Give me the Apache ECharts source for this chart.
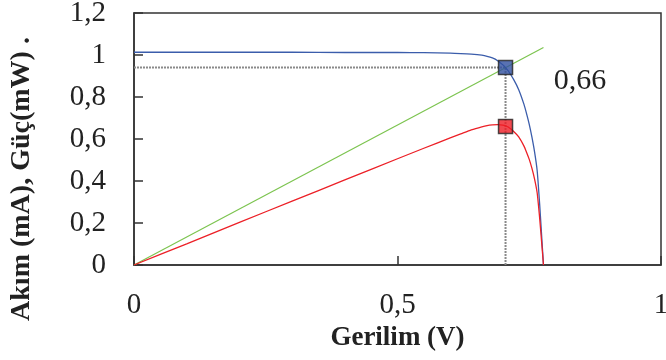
<!DOCTYPE html>
<html>
<head>
<meta charset="utf-8">
<script src="https://cdn.jsdelivr.net/npm/echarts@6/dist/echarts.min.js"></script>
<style>
  html, body { margin: 0; padding: 0; background: #fff; }
  #chart { width: 666px; height: 360px; }
</style>
</head>
<body>
<div id="chart"></div>
<script>
// Solar cell I-V and P-V characteristics
const voltage = [0, 0.1, 0.2, 0.3, 0.4, 0.5, 0.55, 0.6, 0.62, 0.64, 0.66, 0.67, 0.68, 0.69, 0.70, 0.705, 0.71, 0.72, 0.73, 0.74, 0.745, 0.75, 0.755, 0.76, 0.765, 0.77, 0.774, 0.777];
const current = [1.013, 1.013, 1.013, 1.013, 1.012, 1.012, 1.011, 1.009, 1.007, 1.004, 0.999, 0.994, 0.986, 0.973, 0.953, 0.94, 0.925, 0.885, 0.835, 0.765, 0.72, 0.67, 0.61, 0.54, 0.45, 0.28, 0.12, 0];
const power   = [0, 0.101, 0.203, 0.304, 0.405, 0.506, 0.556, 0.605, 0.624, 0.643, 0.658, 0.664, 0.667, 0.668, 0.666, 0.663, 0.657, 0.637, 0.610, 0.566, 0.536, 0.503, 0.461, 0.410, 0.344, 0.216, 0.093, 0];

// Load line through the maximum power point
const loadLineV = [0, 0.777];
const loadLineI = [0, 1.036];

// Maximum power point
const mppVoltage = 0.705;
const mppCurrent = 0.94;
const mppPower = 0.66;

const xTicks = [0, 0.5, 1];
const yTicks = [0, 0.2, 0.4, 0.6, 0.8, 1, 1.2];

const fmt = v => String(+v.toFixed(2)).replace('.', ',');
const pairs = (xs, ys) => xs.map((x, i) => [x, ys[i]]);

const FONT = '"Liberation Serif", "Times New Roman", serif';
const AXIS_COLOR = '#333';

const chart = echarts.init(document.getElementById('chart'), null, { renderer: 'canvas' });

chart.setOption({
  backgroundColor: '#fff',
  animation: false,
  grid: {
    left: 134, right: 5, top: 13, bottom: 95,
    containLabel: false,
    outerBoundsMode: 'none',
    show: true, borderColor: AXIS_COLOR, borderWidth: 1.5
  },
  xAxis: {
    type: 'value',
    min: xTicks[0], max: xTicks[xTicks.length - 1], interval: 0.5,
    name: 'Gerilim (V)',
    nameLocation: 'middle',
    nameGap: 59,
    nameTextStyle: { fontFamily: FONT, fontSize: 27, fontWeight: 'bold', color: '#222' },
    axisLine: { show: true, lineStyle: { color: AXIS_COLOR, width: 1.5 } },
    axisTick: { show: true, inside: true, length: 9, lineStyle: { color: AXIS_COLOR, width: 1.5 } },
    axisLabel: { fontFamily: FONT, fontSize: 29, color: '#222', margin: 26, formatter: fmt },
    splitLine: { show: false }
  },
  yAxis: {
    type: 'value',
    min: yTicks[0], max: yTicks[yTicks.length - 1], interval: 0.2,
    axisLine: { show: true, lineStyle: { color: AXIS_COLOR, width: 1.5 } },
    axisTick: { show: true, inside: true, length: 9, lineStyle: { color: AXIS_COLOR, width: 1.5 } },
    axisLabel: { fontFamily: FONT, fontSize: 29, color: '#222', margin: 28, formatter: fmt },
    splitLine: { show: false }
  },
  graphic: [
    {
      type: 'text',
      x: 22, y: 179,
      rotation: Math.PI / 2,
      style: {
        text: 'Akım (mA), Güç(mW) .',
        font: 'bold 28px ' + FONT,
        fill: '#222',
        textAlign: 'center',
        textVerticalAlign: 'middle'
      }
    },
    {
      type: 'text',
      x: 580, y: 81,
      style: {
        text: fmt(mppPower),
        font: '30px ' + FONT,
        fill: '#222',
        textAlign: 'center',
        textVerticalAlign: 'middle'
      }
    }
  ],
  series: [
    {
      name: 'mpp-h',
      type: 'line',
      data: [[0, mppCurrent], [mppVoltage, mppCurrent]],
      symbol: 'none',
      lineStyle: { color: '#8a8a8a', width: 2, type: [2, 1] },
      z: 1
    },
    {
      name: 'mpp-v',
      type: 'line',
      data: [[mppVoltage, 0], [mppVoltage, mppCurrent]],
      symbol: 'none',
      lineStyle: { color: '#8a8a8a', width: 2, type: [2, 1] },
      z: 1
    },
    {
      name: 'Yük doğrusu',
      type: 'line',
      data: pairs(loadLineV, loadLineI),
      symbol: 'none',
      lineStyle: { color: '#7cc44f', width: 1.2 },
      z: 2
    },
    {
      name: 'Akım',
      type: 'line',
      data: pairs(voltage, current),
      symbol: 'none',
      smooth: 0.2,
      lineStyle: { color: '#3b5dab', width: 1.3 },
      z: 3
    },
    {
      name: 'Güç',
      type: 'line',
      data: pairs(voltage, power),
      symbol: 'none',
      smooth: 0.2,
      lineStyle: { color: '#ec2027', width: 1.3 },
      z: 3
    },
    {
      name: 'MPP',
      type: 'scatter',
      data: [
        { value: [mppVoltage, mppCurrent], itemStyle: { color: '#2f4f9f' } },
        { value: [mppVoltage, mppPower], itemStyle: { color: '#ed1c24' } }
      ],
      symbol: 'rect',
      symbolSize: 14,
      itemStyle: { borderColor: '#222', borderWidth: 1.5 },
      z: 5
    }
  ]
});
</script>
</body>
</html>
